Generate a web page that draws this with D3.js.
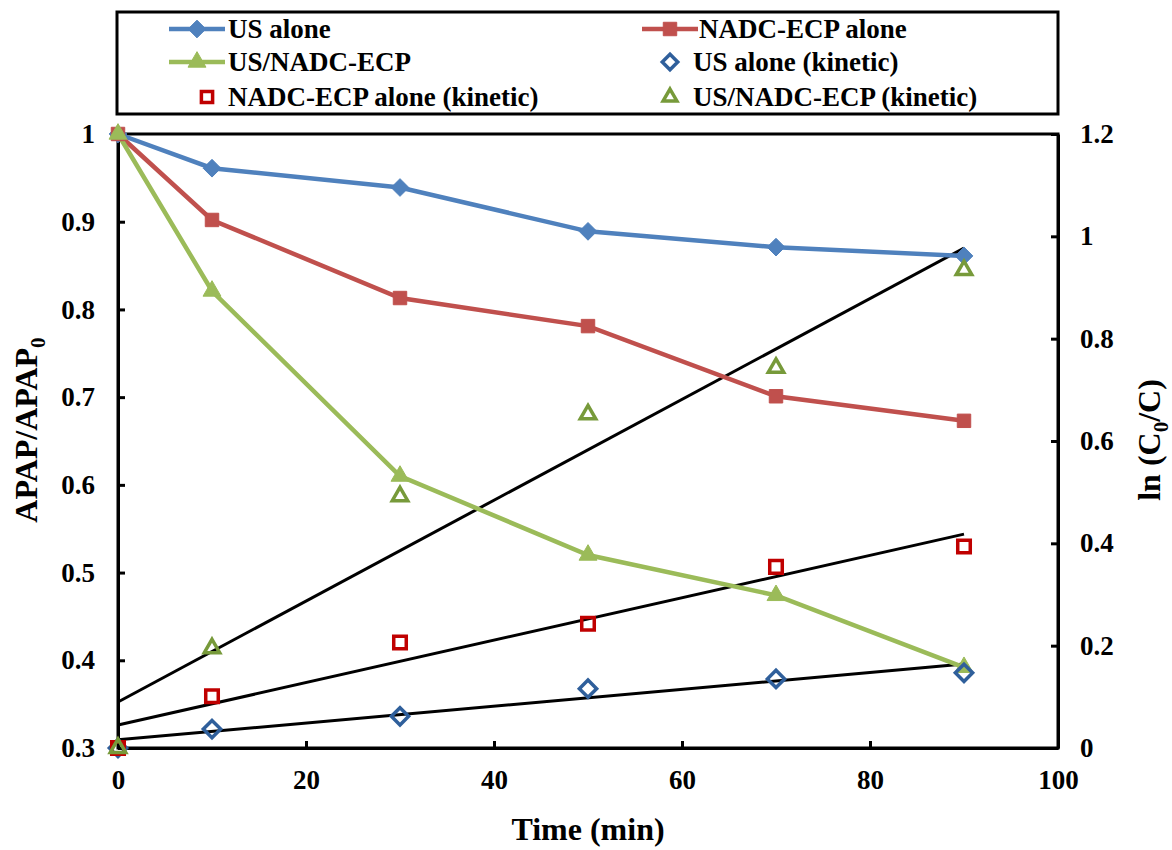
<!DOCTYPE html>
<html>
<head>
<meta charset="utf-8">
<script src="https://cdn.jsdelivr.net/npm/d3@7"></script>
<style>
  body { margin: 0; background: #fff; }
  svg text { font-family: "Liberation Serif", "Times New Roman", Times, "DejaVu Serif", serif; font-weight: bold; }
</style>
</head>
<body>
<svg id="chart" width="1172" height="850"></svg>
<script>
// data
const times = [0, 10, 30, 50, 70, 90];
const usAlone = [1, 0.961, 0.939, 0.889, 0.871, 0.861];
const nadcAlone = [1, 0.902, 0.813, 0.781, 0.701, 0.673];
const usNadc = [1, 0.821, 0.610, 0.520, 0.474, 0.392];
const usKin = [0, 0.037, 0.062, 0.116, 0.135, 0.147];
const nadcKin = [0, 0.101, 0.206, 0.243, 0.354, 0.394];
const usNadcKin = [0, 0.195, 0.492, 0.652, 0.743, 0.934];
// linear fits, value at t=0 and t=90
const fitTimes = [0, 90];
const fitUs = [0.016, 0.164];
const fitNadc = [0.045, 0.418];
const fitUsNadc = [0.090, 0.977];
const xTicks = [0, 20, 40, 60, 80, 100];
const yLeftTicks = [0.3, 0.4, 0.5, 0.6, 0.7, 0.8, 0.9, 1];
const yRightTicks = [0, 0.2, 0.4, 0.6, 0.8, 1, 1.2];

const FONT = '"Liberation Serif", "Times New Roman", Times, "DejaVu Serif", serif';

const svg = d3.select("#chart");
const pLeft = 118, pRight = 1058, pTop = 134, pBottom = 748;

const x = d3.scaleLinear().domain([0, 100]).range([pLeft, pRight]);
const yL = d3.scaleLinear().domain([0.3, 1]).range([pBottom, pTop]);
const yR = d3.scaleLinear().domain([0, 1.2]).range([pBottom, pTop]);

const fmt = d => String(+d.toFixed(1));

// frame
svg.append("rect")
    .attr("x", pLeft).attr("y", pTop)
    .attr("width", pRight - pLeft).attr("height", pBottom - pTop)
    .attr("fill", "none").attr("stroke", "#000").attr("stroke-width", 3);

const styleAxis = g => {
    g.select(".domain").attr("stroke", "#000").attr("stroke-width", 3);
    g.selectAll(".tick line").attr("stroke", "#000").attr("stroke-width", 3);
    g.selectAll(".tick text").attr("fill", "#000").attr("font-size", 27)
        .attr("font-family", FONT).attr("font-weight", "bold");
};

svg.append("g").attr("transform", `translate(0,${pBottom})`)
    .call(d3.axisBottom(x).tickValues(xTicks).tickSizeInner(-7).tickSizeOuter(0).tickPadding(22))
    .call(styleAxis);

svg.append("g").attr("transform", `translate(${pLeft},0)`)
    .call(d3.axisLeft(yL).tickValues(yLeftTicks).tickFormat(fmt).tickSizeInner(-7).tickSizeOuter(0).tickPadding(23))
    .call(styleAxis);

svg.append("g").attr("transform", `translate(${pRight},0)`)
    .call(d3.axisRight(yR).tickValues(yRightTicks).tickFormat(fmt).tickSizeInner(-7).tickSizeOuter(0).tickPadding(22))
    .call(styleAxis);

// axis titles
svg.append("text").attr("x", 588).attr("y", 840)
    .attr("text-anchor", "middle").attr("font-size", 32).text("Time (min)");

const yt = svg.append("text").attr("transform", "translate(37,430) rotate(-90)")
    .attr("text-anchor", "middle").attr("font-size", 32);
yt.append("tspan").text("APAP/APAP");
yt.append("tspan").attr("font-size", 21).attr("dy", 8).text("0");

const rt = svg.append("text").attr("transform", "translate(1160,440) rotate(-90)")
    .attr("text-anchor", "middle").attr("font-size", 32);
rt.append("tspan").text("ln (C");
rt.append("tspan").attr("font-size", 21).attr("dy", 8).text("0");
rt.append("tspan").attr("dy", -8).text("/C)");

const blue = "#4F81BD", red = "#C0504D", green = "#9BBB59";
const blueK = "#2F5F9B", redK = "#C00000", greenK = "#779A3A";

// fit lines (right axis)
const fitLine = d3.line().x((d, i) => x(fitTimes[i])).y(d => yR(d));
[fitUs, fitNadc, fitUsNadc].forEach(f => {
    svg.append("path").attr("d", fitLine(f))
        .attr("fill", "none").attr("stroke", "#000").attr("stroke-width", 3);
});

const sym = {
    diamond: d3.symbol().type(d3.symbolDiamond2),
    square: d3.symbol().type(d3.symbolSquare2),
    triangle: d3.symbol().type(d3.symbolTriangle2)
};

function drawMarker(g, type, cx, cy, color, filled, size) {
    g.append("path")
        .attr("d", sym[type].size(size)())
        .attr("transform", `translate(${cx},${cy})`)
        .attr("fill", filled ? color : "#fff")
        .attr("fill-opacity", filled ? 1 : 0)
        .attr("stroke", color)
        .attr("stroke-width", filled ? 1 : 3.5);
}

// kinetic open markers (right axis)
const kin = [
    { vals: usKin, type: "diamond", color: blueK, size: 190 },
    { vals: nadcKin, type: "square", color: redK, size: 200 },
    { vals: usNadcKin, type: "triangle", color: greenK, size: 170 }
];

// measured series (left axis)
const series = [
    { vals: usAlone, type: "diamond", color: blue, size: 200 },
    { vals: nadcAlone, type: "square", color: red, size: 230 },
    { vals: usNadc, type: "triangle", color: green, size: 230 }
];

const line = d3.line().x((d, i) => x(times[i])).y(d => yL(d));
series.forEach(s => {
    svg.append("path").attr("d", line(s.vals))
        .attr("fill", "none").attr("stroke", s.color).attr("stroke-width", 4.5);
});
series.forEach(s => {
    const g = svg.append("g");
    s.vals.forEach((v, i) => drawMarker(g, s.type, x(times[i]), yL(v), s.color, true, s.size));
});
kin.forEach(s => {
    const g = svg.append("g");
    s.vals.forEach((v, i) => drawMarker(g, s.type, x(times[i]), yR(v), s.color, false, s.size));
});

// legend
svg.append("rect").attr("x", 117).attr("y", 12).attr("width", 941).attr("height", 102)
    .attr("fill", "#fff").attr("stroke", "#000").attr("stroke-width", 3);

const legendItems = [
    { label: "US alone", col: 0, row: 0, s: series[0], line: true },
    { label: "NADC-ECP alone", col: 1, row: 0, s: series[1], line: true },
    { label: "US/NADC-ECP", col: 0, row: 1, s: series[2], line: true },
    { label: "US alone (kinetic)", col: 1, row: 1, s: kin[0], line: false },
    { label: "NADC-ECP alone (kinetic)", col: 0, row: 2, s: kin[1], line: false },
    { label: "US/NADC-ECP (kinetic)", col: 1, row: 2, s: kin[2], line: false }
];
const rowY = [29, 62, 97];
const colX = [197, 670];
const textX = [228, 699];

legendItems.forEach(it => {
    const cy = rowY[it.row];
    const g = svg.append("g");
    if (it.line) {
        g.append("line").attr("x1", colX[it.col] - 28).attr("x2", colX[it.col] + 28)
            .attr("y1", cy).attr("y2", cy).attr("stroke", it.s.color).attr("stroke-width", 4.5);
        drawMarker(g, it.s.type, colX[it.col], cy, it.s.color, true, it.s.size);
        g.append("text").attr("x", textX[it.col]).attr("y", cy + 9)
            .attr("font-size", 27).attr("font-family", FONT).text(it.label);
    } else {
        const mx = it.col === 0 ? 207 : colX[it.col];
        drawMarker(g, it.s.type, mx, cy, it.s.color, false, it.s.size * 0.8);
        g.append("text").attr("x", it.col === 0 ? 228 : 693).attr("y", cy + 9)
            .attr("font-size", 27).attr("font-family", FONT).text(it.label);
    }
});
</script>
</body>
</html>
